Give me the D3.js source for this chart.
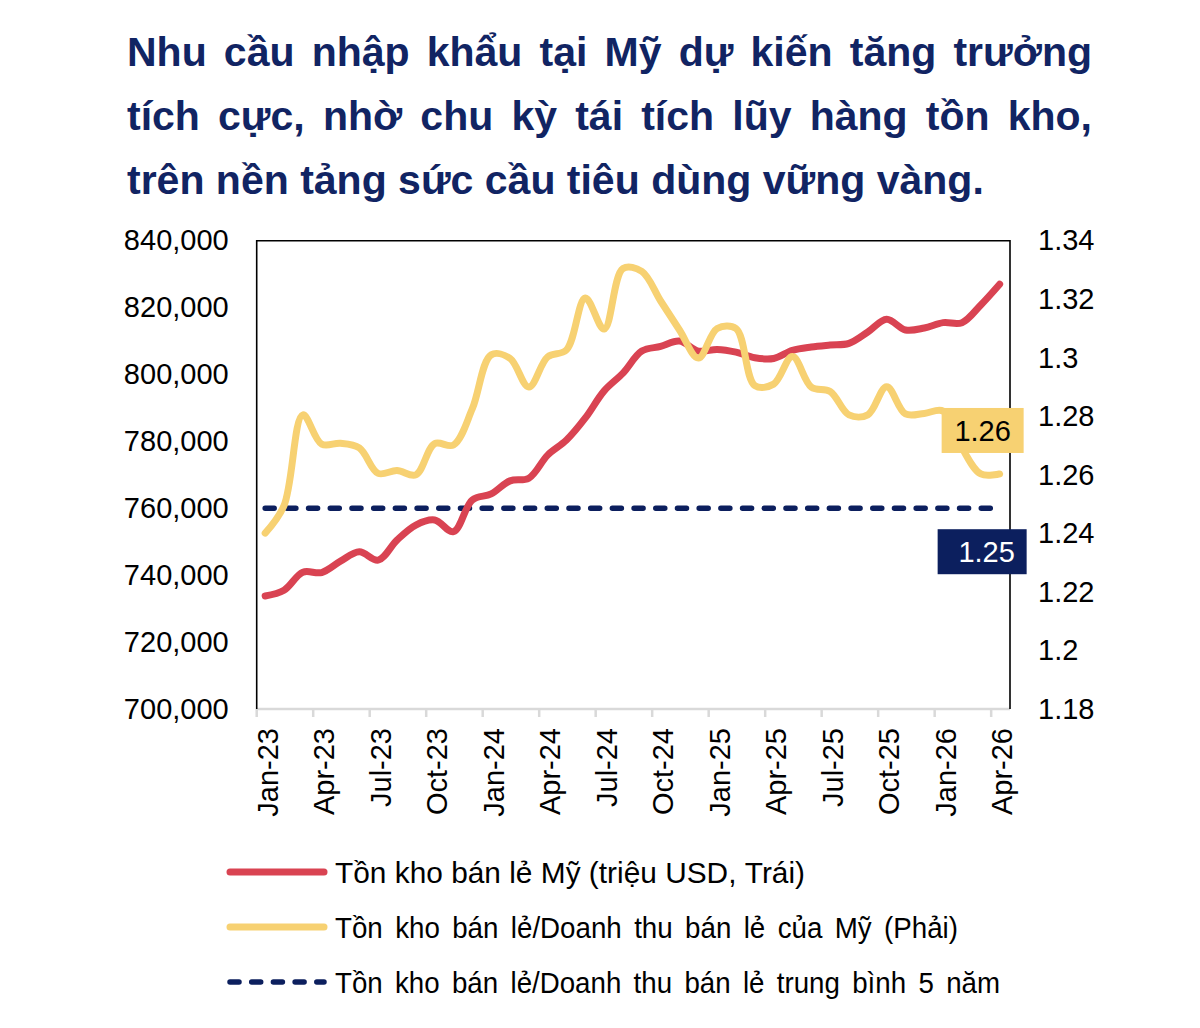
<!DOCTYPE html>
<html>
<head>
<meta charset="utf-8">
<script src="https://cdn.jsdelivr.net/npm/d3@7"></script>
<style>
  body { margin: 0; background: #fff; }
  svg { display: block; font-family: "Liberation Sans", Arial, sans-serif; }
</style>
</head>
<body>
<svg id="chart" width="1200" height="1028"></svg>
<script>
const months = [
  "Jan-23","Feb-23","Mar-23","Apr-23","May-23","Jun-23","Jul-23","Aug-23","Sep-23","Oct-23","Nov-23","Dec-23",
  "Jan-24","Feb-24","Mar-24","Apr-24","May-24","Jun-24","Jul-24","Aug-24","Sep-24","Oct-24","Nov-24","Dec-24",
  "Jan-25","Feb-25","Mar-25","Apr-25","May-25","Jun-25","Jul-25","Aug-25","Sep-25","Oct-25","Nov-25","Dec-25",
  "Jan-26","Feb-26","Mar-26","Apr-26"
];
const tickLabels = ["Jan-23","Apr-23","Jul-23","Oct-23","Jan-24","Apr-24","Jul-24","Oct-24",
  "Jan-25","Apr-25","Jul-25","Oct-25","Jan-26","Apr-26"];

// Tồn kho bán lẻ Mỹ (triệu USD) - trục trái
const inventory = [733800, 735500, 740900, 740800, 744200, 747000, 744500, 750500, 755000, 756500,
  753000, 762500, 764300, 768200, 769000, 775900, 780400, 787000, 795100, 800400,
  807000, 808400, 810000, 807000, 807500, 806700, 805000, 804800, 807200, 808200,
  808800, 809300, 812700, 816500, 813300, 813900, 815500, 815500, 820800, 827000];

// Tồn kho / Doanh thu bán lẻ - trục phải
const ratio = [1.2401, 1.2495, 1.2805, 1.2705, 1.2708, 1.2692, 1.2605, 1.2615, 1.2600, 1.2707,
  1.2702, 1.2826, 1.3010, 1.2998, 1.2900, 1.3003, 1.3027, 1.3204, 1.3098, 1.3305,
  1.3295, 1.3194, 1.3095, 1.2999, 1.3100, 1.3100, 1.2905, 1.2910, 1.3004, 1.2900,
  1.2885, 1.2805, 1.2805, 1.2901, 1.2808, 1.2810, 1.2818, 1.2692, 1.2603, 1.2603];

const avg5y = 1.2486;

const leftTicks = [700000, 720000, 740000, 760000, 780000, 800000, 820000, 840000];
const rightTicks = [1.18, 1.2, 1.22, 1.24, 1.26, 1.28, 1.3, 1.32, 1.34];

const titleLines = [
  "Nhu cầu nhập khẩu tại Mỹ dự kiến tăng trưởng",
  "tích cực, nhờ chu kỳ tái tích lũy hàng tồn kho,",
  "trên nền tảng sức cầu tiêu dùng vững vàng."
];

const legendLabels = [
  "Tồn kho bán lẻ Mỹ (triệu USD, Trái)",
  "Tồn kho bán lẻ/Doanh thu bán lẻ của Mỹ (Phải)",
  "Tồn kho bán lẻ/Doanh thu bán lẻ trung bình 5 năm"
];

const RED = "#d94352", YELLOW = "#f7d172", NAVY = "#0c1f5e", TITLE = "#112463";

const svg = d3.select("#chart");
const plot = { left: 256.7, right: 1010, top: 240.7, bottom: 709 };
const offset = 0.45; // điểm dữ liệu nằm giữa tháng

const x = d3.scaleLinear().domain([0, months.length]).range([plot.left, plot.right]);
const yL = d3.scaleLinear().domain([700000, 840000]).range([plot.bottom, plot.top]);
const yR = d3.scaleLinear().domain([1.18, 1.34]).range([plot.bottom, plot.top]);

function spaceWidth(g, size, weight) {
  const a = g.append("text").attr("font-size", size).attr("font-weight", weight).text("a a");
  const b = g.append("text").attr("font-size", size).attr("font-weight", weight).text("aa");
  const w = a.node().getComputedTextLength() - b.node().getComputedTextLength();
  a.remove(); b.remove();
  return w;
}

// place words one by one; width -> justify, fit -> squeeze glyphs to width
function wordLine(g, text, x0, y, opts) {
  const { size, weight = "normal", fill = "#000", width = null, fit = null, spaceK = 1 } = opts;
  const t = g.append("text").attr("font-size", size)
    .attr("font-weight", weight).attr("fill", fill);
  const words = text.split(" ");
  const spans = words.map(w => t.append("tspan").text(w));
  const widths = spans.map(s => s.node().getComputedTextLength());
  const space = spaceWidth(g, size, weight) * spaceK;
  const sum = d3.sum(widths);
  const gap = width ? (width - sum) / (words.length - 1) : space;
  let cx = 0;
  spans.forEach((s, i) => { s.attr("x", cx); cx += widths[i] + gap; });
  const natural = cx - gap;
  const k = fit ? fit / natural : 1;
  t.attr("transform", `translate(${x0},${y}) scale(${k},1)`);
}

// title
const titleG = svg.append("g");
titleLines.forEach((line, i) => {
  wordLine(titleG, line, 127, 66 + i * 64,
    { size: 41, weight: "bold", fill: TITLE, width: i < 2 ? 965 : null });
});

// left axis
svg.append("g")
  .attr("transform", `translate(${plot.left},0)`)
  .call(d3.axisLeft(yL).tickValues(leftTicks).tickFormat(d3.format(",")).tickSize(0).tickPadding(28))
  .call(g => g.select(".domain").remove())
  .call(g => g.selectAll("text").attr("font-size", 29).attr("fill", "#000")
    .attr("font-family", "Liberation Sans, Arial, sans-serif"));

// right axis
svg.append("g")
  .attr("transform", `translate(${plot.right},0)`)
  .call(d3.axisRight(yR).tickValues(rightTicks).tickFormat(d => String(+d.toFixed(2))).tickSize(0).tickPadding(28))
  .call(g => g.select(".domain").remove())
  .call(g => g.selectAll("text").attr("font-size", 29).attr("fill", "#000")
    .attr("font-family", "Liberation Sans, Arial, sans-serif"));

// bottom axis (light gray line + ticks)
svg.append("line")
  .attr("x1", plot.left).attr("x2", plot.right)
  .attr("y1", plot.bottom).attr("y2", plot.bottom)
  .attr("stroke", "#d9d9d9").attr("stroke-width", 2.5);

const xTicks = svg.append("g");
xTicks.selectAll("line")
  .data(tickLabels)
  .join("line")
  .attr("x1", d => x(months.indexOf(d))).attr("x2", d => x(months.indexOf(d)))
  .attr("y1", plot.bottom).attr("y2", plot.bottom + 8)
  .attr("stroke", "#d9d9d9").attr("stroke-width", 2.5);

xTicks.selectAll("text")
  .data(tickLabels)
  .join("text")
  .attr("transform", d => `translate(${x(months.indexOf(d)) + 21},728) rotate(-90)`)
  .attr("text-anchor", "end")
  .attr("font-size", 29)
  .attr("fill", "#000")
  .text(d => d);

// frame
svg.append("path")
  .attr("d", `M${plot.left},${plot.bottom}V${plot.top}H${plot.right}V${plot.bottom}`)
  .attr("fill", "none").attr("stroke", "#000").attr("stroke-width", 1.6);

// 5-year average (dashed)
svg.append("line")
  .attr("x1", x(offset)).attr("x2", x(months.length - 1 + offset))
  .attr("y1", yR(avg5y)).attr("y2", yR(avg5y))
  .attr("stroke", NAVY).attr("stroke-width", 5.5)
  .attr("stroke-dasharray", "9,12.7").attr("stroke-linecap", "round");

const curve = d3.curveCatmullRom.alpha(0.5);

svg.append("path")
  .datum(inventory)
  .attr("fill", "none").attr("stroke", RED).attr("stroke-width", 7)
  .attr("stroke-linecap", "round").attr("stroke-linejoin", "round")
  .attr("d", d3.line().x((d, i) => x(i + offset)).y(d => yL(d)).curve(curve));

svg.append("path")
  .datum(ratio)
  .attr("fill", "none").attr("stroke", YELLOW).attr("stroke-width", 7)
  .attr("stroke-linecap", "round").attr("stroke-linejoin", "round")
  .attr("d", d3.line().x((d, i) => x(i + offset)).y(d => yR(d)).curve(curve));

// data labels
const lastX = x(months.length - 1 + offset);
const lastR = ratio[ratio.length - 1];

svg.append("rect")
  .attr("x", lastX - 58).attr("y", yR(lastR) - 66)
  .attr("width", 82).attr("height", 45).attr("fill", YELLOW);
svg.append("text")
  .attr("x", lastX - 17).attr("y", yR(lastR) - 33)
  .attr("text-anchor", "middle").attr("font-size", 29).attr("fill", "#000")
  .text(lastR.toFixed(2));

svg.append("rect")
  .attr("x", lastX - 62).attr("y", yR(avg5y) + 21)
  .attr("width", 89).attr("height", 45).attr("fill", NAVY);
svg.append("text")
  .attr("x", lastX - 13).attr("y", yR(avg5y) + 54)
  .attr("text-anchor", "middle").attr("font-size", 29).attr("fill", "#fff")
  .text(avg5y.toFixed(2));

// legend
const legendY = [872, 927, 982];
const legendW = [470, 623, 665];
const legendSpace = [1, 1.6, 1.6];
const legendStyle = [
  { stroke: RED, dash: null, width: 7 },
  { stroke: YELLOW, dash: null, width: 7 },
  { stroke: NAVY, dash: "9,12.7", width: 5.5 }
];
const legend = svg.append("g");
legendLabels.forEach((label, i) => {
  legend.append("line")
    .attr("x1", 230).attr("x2", 324)
    .attr("y1", legendY[i]).attr("y2", legendY[i])
    .attr("stroke", legendStyle[i].stroke)
    .attr("stroke-width", legendStyle[i].width)
    .attr("stroke-linecap", "round")
    .attr("stroke-dasharray", legendStyle[i].dash);
  wordLine(legend, label, 335, legendY[i] + 11,
    { size: 30, fit: legendW[i], spaceK: legendSpace[i] });
});
</script>
</body>
</html>
